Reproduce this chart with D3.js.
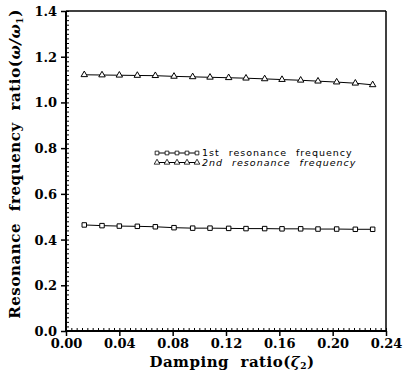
<!DOCTYPE html>
<html>
<head>
<meta charset="utf-8">
<script src="https://cdn.jsdelivr.net/npm/d3@7"></script>
<style>
  body { margin: 0; background: #fff; }
  text { white-space: pre; }
  .tick text { font-family: "DejaVu Serif", serif; font-weight: bold; font-size: 13px; fill: #000; }
  .domain { stroke: none; }
</style>
</head>
<body>
<div id="chart"></div>
<script>
// damping ratio values (x) for both curves
var damping = [0.0137, 0.027, 0.040, 0.0535, 0.067, 0.081, 0.095, 0.108, 0.122,
               0.135, 0.149, 0.162, 0.176, 0.189, 0.203, 0.217, 0.230];
var first_res = [0.464, 0.461, 0.459, 0.458, 0.456, 0.452, 0.450, 0.450, 0.449,
                 0.448, 0.448, 0.447, 0.447, 0.446, 0.446, 0.445, 0.445];
var second_res = [1.121, 1.120, 1.119, 1.118, 1.117, 1.114, 1.112, 1.110, 1.108,
                  1.106, 1.103, 1.100, 1.097, 1.093, 1.089, 1.084, 1.077];
var xticks = [0, 0.04, 0.08, 0.12, 0.16, 0.20, 0.24];
var yticks = [0, 0.2, 0.4, 0.6, 0.8, 1.0, 1.2, 1.4];
var legend_labels = ["1st resonance frequency", "2nd resonance frequency"];

var margin = {top: 11, right: 17, bottom: 43, left: 66};
var width = 403 - margin.left - margin.right,
    height = 374 - margin.top - margin.bottom;

var x = d3.scaleLinear().domain([0, 0.24]).range([0, width]);
var y = d3.scaleLinear().domain([0, 1.4]).range([height, 0]);

var svg = d3.select("#chart").append("svg")
    .attr("width", 403)
    .attr("height", 374)
  .append("g")
    .attr("transform", "translate(" + margin.left + "," + margin.top + ")");

// minor ticks, pointing inward
svg.append("g")
    .attr("transform", "translate(0," + height + ")")
    .call(d3.axisBottom(x).tickValues(d3.range(0, 0.2401, 0.004)).tickSize(-3).tickFormat(""))
    .selectAll("line").attr("stroke", "#000");
svg.append("g")
    .call(d3.axisLeft(y).tickValues(d3.range(0, 1.401, 0.02)).tickSize(-3).tickFormat(""))
    .selectAll("line").attr("stroke", "#000");

// major ticks with labels, pointing outward
var xaxis = svg.append("g")
    .attr("transform", "translate(0," + height + ")")
    .call(d3.axisBottom(x).tickValues(xticks).tickSize(5).tickPadding(3).tickFormat(d3.format(".2f")));
xaxis.selectAll("line").attr("stroke", "#000").attr("stroke-width", 1.5);

var yaxis = svg.append("g")
    .call(d3.axisLeft(y).tickValues(yticks).tickSize(5).tickPadding(4).tickFormat(d3.format(".1f")));
yaxis.selectAll("line").attr("stroke", "#000").attr("stroke-width", 1.5);
yaxis.selectAll("text").attr("dy", "0.35em");

// frame
svg.append("line").attr("x1", 0).attr("x2", width).attr("y1", 0).attr("y2", 0)
    .attr("stroke", "#000").attr("stroke-width", 1.5);
svg.append("line").attr("x1", width).attr("x2", width).attr("y1", 0).attr("y2", height)
    .attr("stroke", "#000").attr("stroke-width", 1.5);
svg.append("line").attr("x1", 0).attr("x2", 0).attr("y1", 0).attr("y2", height)
    .attr("stroke", "#000").attr("stroke-width", 2);
svg.append("line").attr("x1", 0).attr("x2", width).attr("y1", height).attr("y2", height)
    .attr("stroke", "#000").attr("stroke-width", 2);

var line = d3.line()
    .x(function(d) { return x(d[0]); })
    .y(function(d) { return y(d[1]); });

var s1 = damping.map(function(d, i) { return [d, first_res[i]]; });
var s2 = damping.map(function(d, i) { return [d, second_res[i]]; });

svg.append("path").datum(s1).attr("d", line)
    .attr("fill", "none").attr("stroke", "#000").attr("stroke-width", 1);
svg.append("path").datum(s2).attr("d", line)
    .attr("fill", "none").attr("stroke", "#000").attr("stroke-width", 1);

var sq = d3.symbol().type(d3.symbolSquare).size(20);
var tri = d3.symbol().type(d3.symbolTriangle).size(18);

svg.selectAll(".sq").data(s1).enter().append("path")
    .attr("class", "sq")
    .attr("d", sq)
    .attr("transform", function(d) { return "translate(" + x(d[0]) + "," + y(d[1]) + ")"; })
    .attr("fill", "#fff").attr("stroke", "#000").attr("stroke-width", 1);
svg.selectAll(".tri").data(s2).enter().append("path")
    .attr("class", "tri")
    .attr("d", tri)
    .attr("transform", function(d) { return "translate(" + x(d[0]) + "," + y(d[1]) + ")"; })
    .attr("fill", "#fff").attr("stroke", "#000").attr("stroke-width", 1);

// legend
var legend = svg.append("g").attr("transform", "translate(89,142)");
[sq, tri].forEach(function(sym, i) {
  var g = legend.append("g").attr("transform", "translate(0," + (i * 9.5) + ")");
  g.append("line").attr("x1", 0).attr("x2", 44).attr("y1", 0).attr("y2", 0)
      .attr("stroke", "#000").attr("stroke-width", 1);
  d3.range(5).forEach(function(k) {
    g.append("path").attr("d", d3.symbol().type(i ? d3.symbolTriangle : d3.symbolSquare).size(14))
        .attr("transform", "translate(" + (2 + k * 10) + ",0)")
        .attr("fill", "#fff").attr("stroke", "#000").attr("stroke-width", 0.8);
  });
  g.append("text")
      .attr("x", 47).attr("y", 0).attr("dy", "0.33em")
      .style("font-family", "'DejaVu Sans', sans-serif")
      .style("font-size", "9.5px")
      .style("font-style", i ? "italic" : "normal")
      .style("letter-spacing", "1px")
      .style("word-spacing", "5px")
      .text(legend_labels[i]);
});

// axis titles
var xt = svg.append("text")
    .attr("x", width / 2 + 6).attr("y", height + 36)
    .attr("text-anchor", "middle")
    .style("font-family", "'DejaVu Serif', serif").style("font-weight", "bold").style("font-size", "15px")
    .style("letter-spacing", "0.5px");
xt.append("tspan").text("Damping  ratio(");
xt.append("tspan").style("font-style", "italic").text("ζ");
xt.append("tspan").attr("dy", 2).style("font-size", "9px").text("2");
xt.append("tspan").attr("dy", -2).text(")");

var yt = svg.append("text")
    .attr("transform", "translate(-46," + (height / 2 - 7) + ") rotate(-90)")
    .attr("text-anchor", "middle")
    .style("font-family", "'DejaVu Serif', serif").style("font-weight", "bold").style("font-size", "15px")
    .style("letter-spacing", "0.6px");
yt.append("tspan").text("Resonance  frequency  ratio(");
yt.append("tspan").style("font-style", "italic").text("ω/ω");
yt.append("tspan").attr("dy", 3).style("font-size", "9px").text("1");
yt.append("tspan").attr("dy", -3).text(")");
</script>
</body>
</html>
